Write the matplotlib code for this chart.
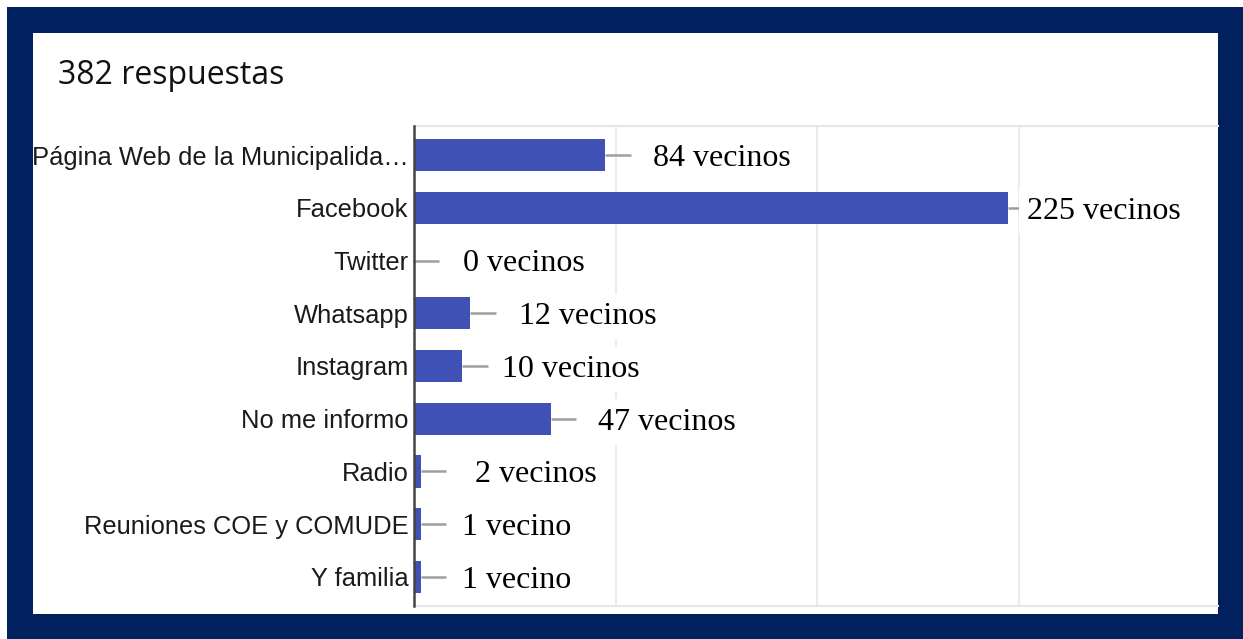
import matplotlib
matplotlib.use("Agg")
import matplotlib.pyplot as plt
from matplotlib.patches import Rectangle

# data
categories = ["Página Web de la Municipalida…", "Facebook", "Twitter", "Whatsapp",
              "Instagram", "No me informo", "Radio", "Reuniones COE y COMUDE", "Y familia"]
# bar lengths as drawn (grid lines at 100, 200, 300)
bar_values = [95, 295, 0, 28, 24, 68, 3.5, 3.5, 3.5]
# the text written next to each bar
value_labels = ["84 vecinos", "225 vecinos", "0 vecinos", "12 vecinos", "10 vecinos",
                "47 vecinos", "2 vecinos", "1 vecino", "1 vecino"]
title = "382 respuestas"

W, H = 1243, 639
fig = plt.figure(figsize=(W / 100, H / 100), dpi=100)
fig.patch.set_facecolor("white")

# navy frame and white panel
navy = "#01205e"
fig.patches.append(Rectangle((7 / W, 0), 1 - 7 / W, 1 - 7 / H, transform=fig.transFigure,
                             facecolor=navy, edgecolor="none", zorder=0))
fig.patches.append(Rectangle((33 / W, 1 - 614 / H), (1218 - 33) / W, (614 - 33) / H,
                             transform=fig.transFigure, facecolor="white",
                             edgecolor="none", zorder=1))

fig.text(58 / W, 1 - 76 / H, title, fontsize=23, family="Open Sans",
         va="center", ha="left", color="#111111", zorder=3)

ax = fig.add_axes([414 / W, 1 - 606 / H, (1218 - 414) / W, (606 - 126) / H])
ax.set_zorder(2)
ax.set_facecolor("none")
ypos = list(range(len(categories)))
ax.barh(ypos, bar_values, height=0.61, color="#3f51b5", zorder=3)

# leader lines after each bar
lead = 12.5
ax.hlines(ypos, bar_values, [v + lead for v in bar_values], color="#9e9e9e",
          linewidth=1.8, zorder=3)

# label offsets in pixels from the bar end
offsets = [48, 19, 49, 49, 40, 47, 54, 41, 41]
for y, v, lab, off in zip(ypos, bar_values, value_labels, offsets):
    ax.annotate(lab, xy=(v, y), xytext=(off * 0.72, -2.5), textcoords="offset points",
                ha="left", va="center", fontsize=23, family="Liberation Serif",
                color="black", zorder=5,
                bbox=dict(facecolor="white", edgecolor="none", pad=6))

ax.set_xlim(0, 399)
ax.set_ylim(8.55, -0.55)
ax.set_xticks([100, 200, 300])
ax.xaxis.grid(True, color="#ebebeb", linewidth=1.5, zorder=0)
ax.set_axisbelow(True)
ax.tick_params(axis="x", length=0, labelbottom=False)
ax.set_yticks(ypos)
ax.set_yticklabels(categories, fontsize=18.4, family="Liberation Sans", color="#1a1a1a")
ax.tick_params(axis="y", length=0, pad=4)

for s in ["top", "bottom"]:
    ax.spines[s].set_color("#e6e6e6")
    ax.spines[s].set_linewidth(1.5)
ax.spines["right"].set_visible(False)
ax.spines["left"].set_color("#444444")
ax.spines["left"].set_linewidth(1.8)
ax.spines["left"].set_zorder(4)

fig.savefig("out.png", dpi=100)
